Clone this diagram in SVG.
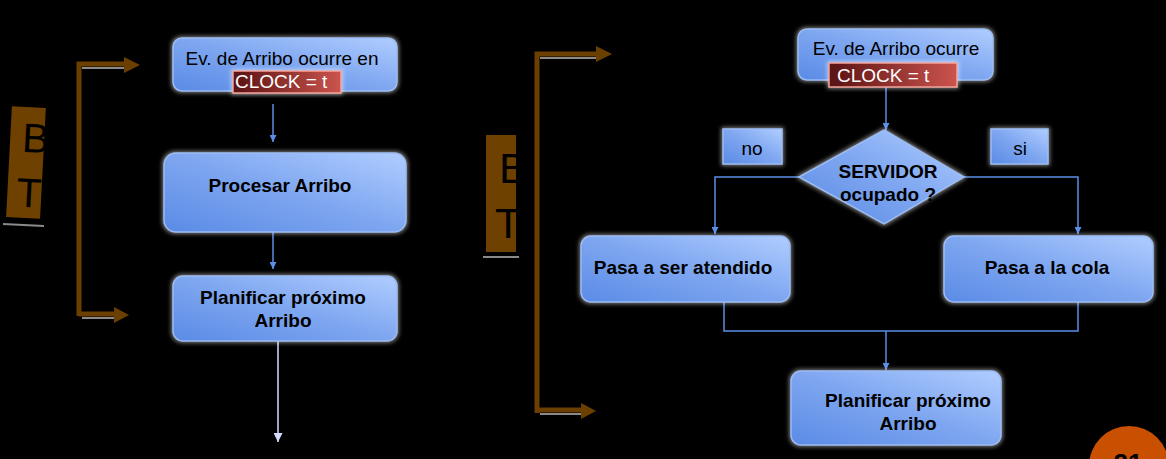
<svg xmlns="http://www.w3.org/2000/svg" width="1166" height="459" viewBox="0 0 1166 459">
<defs>
<style>
.box{fill:url(#gBox);stroke:#9bbcf5;stroke-width:1.5;filter:url(#glow)}
.clk{fill:url(#gClk);stroke:#f5a29b;stroke-width:1.5;filter:url(#glow)}
.t{font-family:"Liberation Sans",Arial,sans-serif;fill:#000}
.b{font-weight:bold;font-size:19px}
.r{font-size:19px}
.w{fill:#fff}
.c{fill:none;stroke:#5b8ee6;stroke-width:1.5}
.brown{fill:none;stroke:#6b3f00;stroke-width:5}
.bh{fill:#6b3f00}
.sh{stroke:#8a8a8a;stroke-width:2}
</style>
<linearGradient id="gBox" x1="0" y1="1" x2="1" y2="0">
<stop offset="0" stop-color="#5a8be6"/>
<stop offset="0.5" stop-color="#7ea6f0"/>
<stop offset="1" stop-color="#b0cdff"/>
</linearGradient>
<linearGradient id="gClk" x1="0" y1="0" x2="1" y2="0">
<stop offset="0" stop-color="#5a1212"/>
<stop offset="1" stop-color="#cc544e"/>
</linearGradient>
<filter id="glow" x="-10%" y="-20%" width="120%" height="140%">
<feMorphology in="SourceAlpha" operator="dilate" radius="1" result="d"/>
<feGaussianBlur in="d" stdDeviation="2" result="bl"/>
<feFlood flood-color="#ffffff" flood-opacity="0.5"/>
<feComposite in2="bl" operator="in" result="g"/>
<feMerge><feMergeNode in="g"/><feMergeNode in="SourceGraphic"/></feMerge>
</filter>
<marker id="ab" viewBox="0 0 10 10" refX="10" refY="5" markerWidth="7" markerHeight="7" markerUnits="userSpaceOnUse" orient="auto">
<path d="M0,0 L10,5 L0,10 z" fill="#5b8ee6"/>
</marker>
<marker id="al" viewBox="0 0 10 10" refX="10" refY="5" markerWidth="9" markerHeight="9" markerUnits="userSpaceOnUse" orient="auto">
<path d="M0,0 L10,5 L0,10 z" fill="#d6dcff"/>
</marker>
</defs>
<rect width="1166" height="459" fill="#000"/>

<!-- left side markers -->
<g id="bt-left">
<g transform="rotate(3 26 162)">
<rect x="9" y="107" width="34" height="111" fill="#6e4100"/>
<text class="t" x="21" y="152" font-size="41">B</text>
<text class="t" x="18" y="207" font-size="41">T</text>
</g>
<line x1="3" y1="224" x2="44" y2="226" class="sh"/>
</g>
<g id="bt-right">
<rect x="486" y="135" width="30" height="117" fill="#6e4100"/>
<text class="t" x="499" y="183" font-size="43">B</text>
<text class="t" x="495" y="238" font-size="43">T</text>
<line x1="483" y1="257" x2="519" y2="257" class="sh"/>
</g>

<g id="loop-arrows">
<line x1="82" y1="68" x2="124" y2="68" class="sh"/>
<path class="brown" d="M79,316 V64 H126"/>
<polygon class="bh" points="124,57 140,65 124,73"/>
<line x1="82" y1="318" x2="114" y2="318" class="sh"/>
<path class="brown" d="M79,314 H115"/>
<polygon class="bh" points="114,307 129,315 114,323"/>
<line x1="540" y1="58" x2="597" y2="58" class="sh"/>
<path class="brown" d="M537,413 V54 H598"/>
<polygon class="bh" points="596,46 612,54 596,62"/>
<line x1="540" y1="414" x2="582" y2="414" class="sh"/>
<path class="brown" d="M537,410 H583"/>
<polygon class="bh" points="581,403 596,411 581,419"/>
</g>

<!-- connectors -->
<g id="connectors">
<line class="c" x1="273" y1="104" x2="273" y2="142" marker-end="url(#ab)"/>
<line class="c" x1="273" y1="232" x2="273" y2="269" marker-end="url(#ab)"/>
<line x1="278" y1="341" x2="278" y2="442" stroke="#d6dcff" stroke-width="1.5" marker-end="url(#al)"/>
<line class="c" x1="886" y1="87" x2="886" y2="130" marker-end="url(#ab)"/>
<path class="c" d="M799,177 H715 V234" marker-end="url(#ab)"/>
<path class="c" d="M963,177 H1078 V234" marker-end="url(#ab)"/>
<path class="c" d="M724,302 V331 H1078 V302"/>
<line class="c" x1="886" y1="331" x2="886" y2="370" marker-end="url(#ab)"/>
</g>

<!-- left flow -->
<g id="n-ev-left">
<rect class="box" x="173" y="38" width="224" height="53" rx="9"/>
<text class="t r" x="282" y="65" text-anchor="middle">Ev. de Arribo ocurre en</text>
<rect class="clk" x="233" y="71" width="108" height="22"/>
<text class="t r w" x="235" y="88">CLOCK = t</text>
</g>
<g id="n-procesar">
<rect class="box" x="164" y="153" width="242" height="79" rx="12"/>
<text class="t b" x="280" y="192" text-anchor="middle">Procesar Arribo</text>
</g>
<g id="n-plan-left">
<rect class="box" x="173" y="276" width="224" height="65" rx="10"/>
<text class="t b" x="283" y="304" text-anchor="middle">Planificar próximo</text>
<text class="t b" x="283" y="327" text-anchor="middle">Arribo</text>
</g>

<!-- right flow -->
<g id="n-ev-right">
<rect class="box" x="798" y="29" width="195" height="51" rx="9"/>
<text class="t r" x="896" y="55" text-anchor="middle">Ev. de Arribo ocurre</text>
<rect class="clk" x="829" y="63" width="128" height="24"/>
<text class="t r w" x="837" y="82">CLOCK = t</text>
</g>
<g id="n-servidor">
<polygon class="box" points="884,130 964,177 884,224 799,177"/>
<text class="t b" x="888" y="178" text-anchor="middle">SERVIDOR</text>
<text class="t b" x="888" y="201" text-anchor="middle">ocupado ?</text>
</g>
<g id="l-no">
<rect class="box" x="723" y="129" width="59" height="35"/>
<text class="t r" x="752" y="155" text-anchor="middle">no</text>
</g>
<g id="l-si">
<rect class="box" x="991" y="129" width="57" height="35"/>
<text class="t r" x="1020" y="155" text-anchor="middle">si</text>
</g>
<g id="n-atendido">
<rect class="box" x="581" y="236" width="209" height="66" rx="10"/>
<text class="t b" x="683" y="274" text-anchor="middle">Pasa a ser atendido</text>
</g>
<g id="n-cola">
<rect class="box" x="944" y="236" width="209" height="66" rx="10"/>
<text class="t b" x="1047" y="274" text-anchor="middle">Pasa a la cola</text>
</g>
<g id="n-plan-right">
<rect class="box" x="791" y="371" width="210" height="74" rx="10"/>
<text class="t b" x="908" y="407" text-anchor="middle">Planificar próximo</text>
<text class="t b" x="908" y="430" text-anchor="middle">Arribo</text>
</g>

<g id="page-number">
<circle cx="1129" cy="466" r="40" fill="#c85000"/>
<text class="t" x="1128" y="472" font-size="26" font-weight="bold" text-anchor="middle">21</text>
</g>
</svg>
